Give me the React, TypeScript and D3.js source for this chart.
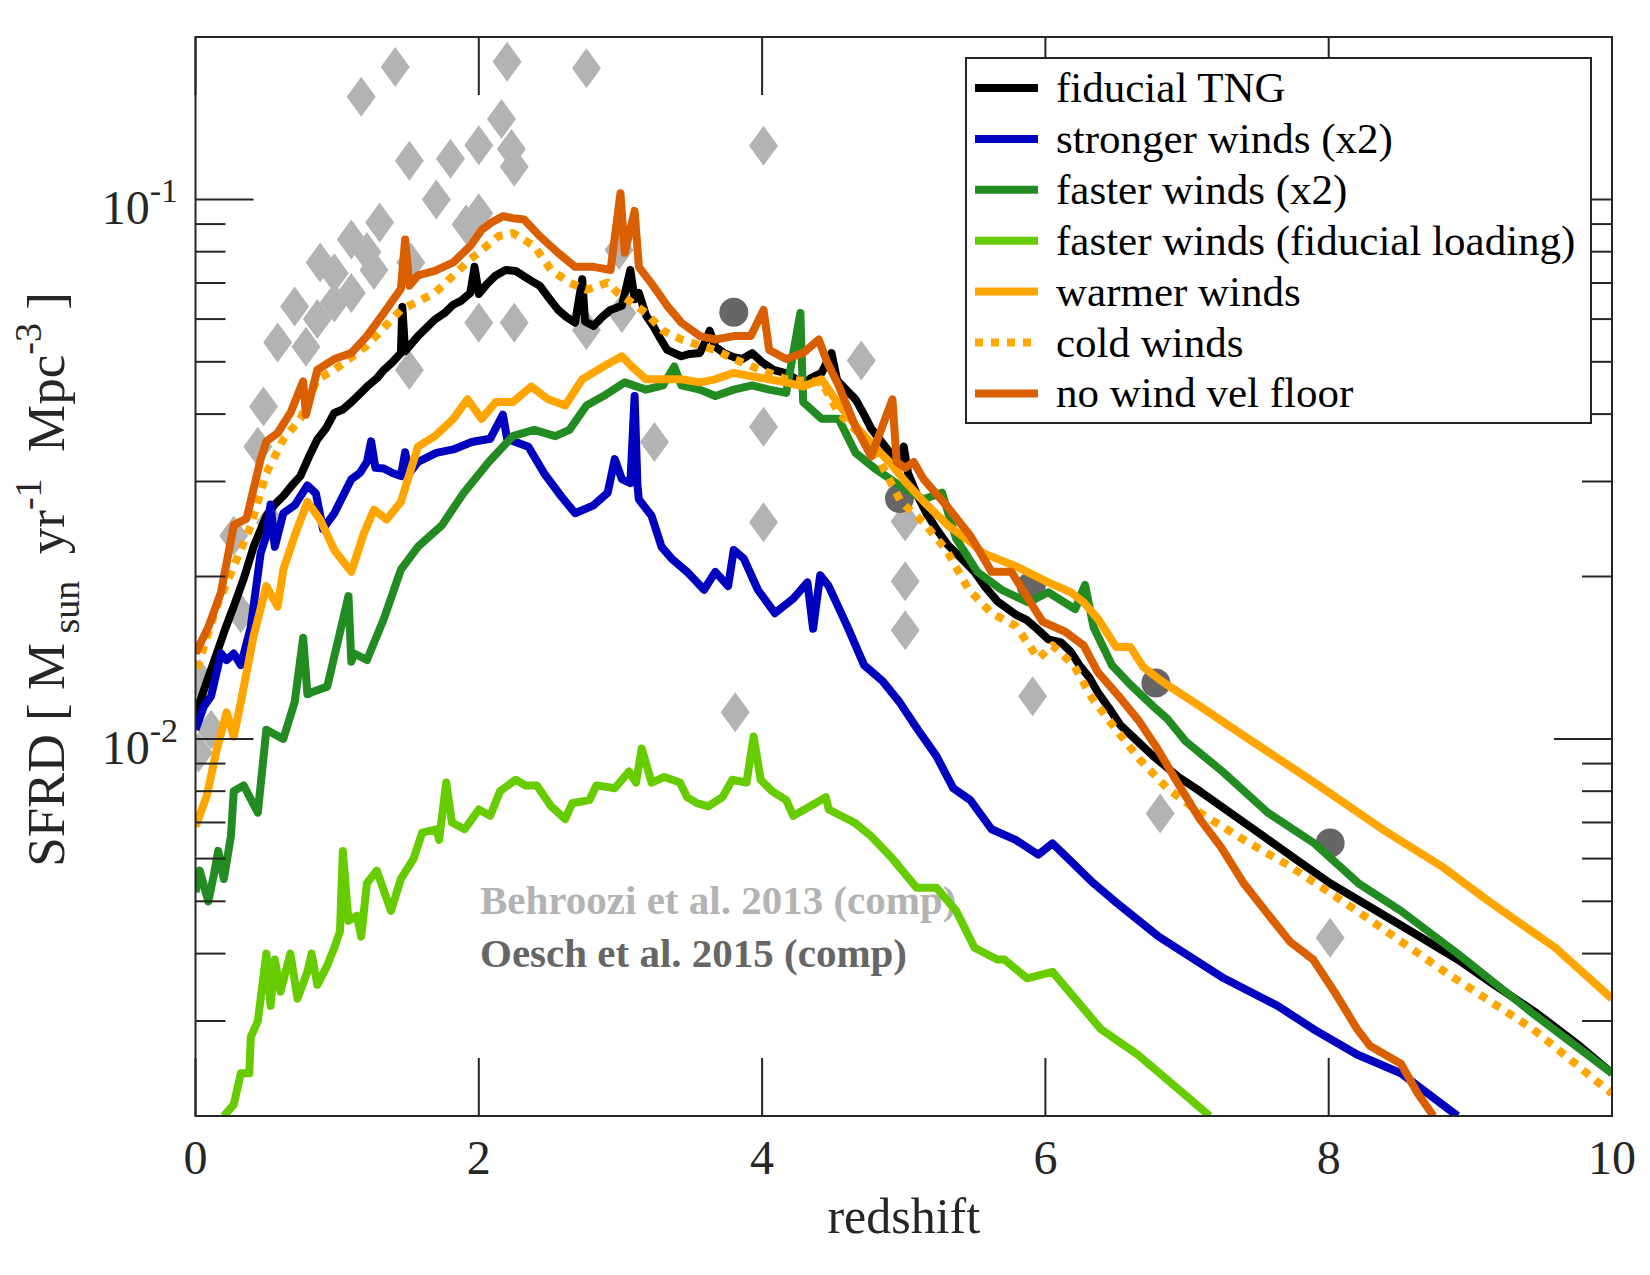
import React from "react";
import * as d3 from "d3";

type Pt = [number, number]; // [redshift, SFRD in Msun/yr/Mpc^3]

// simulation runs
const fiducialTNG: Pt[] = [
  [0.0, 0.0108], [0.03, 0.0117], [0.09, 0.013], [0.15, 0.0144], [0.21, 0.016], [0.27, 0.0176], [0.34, 0.0198],
  [0.41, 0.0227], [0.5, 0.0259], [0.56, 0.0272], [0.62, 0.0282], [0.68, 0.0295], [0.74, 0.0307], [0.8, 0.0333],
  [0.86, 0.0359], [0.92, 0.0376], [0.98, 0.0402], [1.04, 0.0408], [1.1, 0.0421], [1.16, 0.0436], [1.22, 0.0452],
  [1.28, 0.0466], [1.33, 0.0483], [1.39, 0.0499], [1.45, 0.0519], [1.46, 0.0632], [1.48, 0.0523], [1.57, 0.0558],
  [1.63, 0.0578], [1.69, 0.0599], [1.76, 0.0616], [1.82, 0.0638], [1.88, 0.065], [1.94, 0.0671], [1.97, 0.075],
  [2.0, 0.0668], [2.06, 0.0698], [2.12, 0.0723], [2.19, 0.074], [2.26, 0.0737], [2.32, 0.072], [2.38, 0.0704],
  [2.43, 0.0692], [2.49, 0.0659], [2.56, 0.0624], [2.62, 0.0605], [2.68, 0.0591], [2.73, 0.0711], [2.75, 0.0594],
  [2.81, 0.0583], [2.87, 0.0605], [2.93, 0.0624], [3.01, 0.0635], [3.07, 0.074], [3.1, 0.0653], [3.13, 0.0671],
  [3.18, 0.061], [3.23, 0.0583], [3.28, 0.0553], [3.33, 0.0526], [3.38, 0.0519], [3.43, 0.0512], [3.49, 0.0517],
  [3.56, 0.0519], [3.6, 0.0545], [3.63, 0.0571], [3.67, 0.0533], [3.73, 0.0519], [3.8, 0.051], [3.86, 0.0506],
  [3.93, 0.0519], [4.0, 0.0499], [4.08, 0.0483], [4.16, 0.0477], [4.23, 0.0466], [4.29, 0.045], [4.34, 0.0466],
  [4.42, 0.0477], [4.49, 0.0519], [4.53, 0.0462], [4.6, 0.0442], [4.66, 0.0426], [4.72, 0.0399], [4.77, 0.0376],
  [4.83, 0.0359], [4.9, 0.034], [4.95, 0.0326], [5.0, 0.0348], [5.03, 0.0311], [5.09, 0.0285], [5.16, 0.0262],
  [5.24, 0.0243], [5.31, 0.0229], [5.4, 0.0217], [5.5, 0.0204], [5.57, 0.0192], [5.66, 0.018], [5.79, 0.017],
  [5.87, 0.0166], [5.94, 0.016], [6.02, 0.0153], [6.11, 0.0151], [6.18, 0.0145], [6.24, 0.0137], [6.31, 0.013],
  [6.37, 0.0122], [6.45, 0.0114], [6.53, 0.0106], [6.65, 0.0099], [6.76, 0.0093], [6.94, 0.0085], [7.09, 0.008],
  [7.24, 0.0075], [7.54, 0.0066], [7.76, 0.006], [8.01, 0.0054], [8.28, 0.0049], [8.58, 0.0044], [8.91, 0.0039],
  [9.17, 0.0035], [9.47, 0.0031], [9.77, 0.0027], [10.0, 0.0024],
];

const strongerWinds: Pt[] = [
  [0.0, 0.0104], [0.06, 0.0115], [0.11, 0.012], [0.18, 0.0144], [0.22, 0.014], [0.27, 0.0144], [0.32, 0.0137],
  [0.39, 0.0161], [0.46, 0.0221], [0.5, 0.0238], [0.53, 0.0272], [0.56, 0.0227], [0.62, 0.0262], [0.7, 0.0271],
  [0.79, 0.0295], [0.85, 0.0285], [0.9, 0.0245], [0.98, 0.0262], [1.1, 0.0303], [1.16, 0.0311], [1.21, 0.0326],
  [1.24, 0.0356], [1.27, 0.0318], [1.33, 0.0317], [1.39, 0.0311], [1.45, 0.0307], [1.48, 0.034], [1.51, 0.0311],
  [1.57, 0.0326], [1.7, 0.0339], [1.82, 0.0344], [1.95, 0.0355], [2.08, 0.036], [2.17, 0.0399], [2.2, 0.036],
  [2.35, 0.0348], [2.46, 0.0311], [2.58, 0.0282], [2.68, 0.0262], [2.81, 0.0271], [2.91, 0.0286], [2.96, 0.033],
  [3.01, 0.0303], [3.07, 0.0298], [3.1, 0.0432], [3.12, 0.0295], [3.13, 0.0278], [3.22, 0.0259], [3.29, 0.0227],
  [3.36, 0.0216], [3.47, 0.0204], [3.59, 0.0189], [3.67, 0.0204], [3.76, 0.0192], [3.8, 0.0224], [3.87, 0.0216],
  [3.97, 0.0189], [4.09, 0.0171], [4.22, 0.0182], [4.32, 0.0195], [4.36, 0.016], [4.41, 0.0201], [4.47, 0.0192],
  [4.6, 0.0162], [4.72, 0.0137], [4.85, 0.0128], [4.97, 0.0117], [5.1, 0.0104], [5.23, 0.0093], [5.35, 0.0081],
  [5.47, 0.0077], [5.62, 0.0068], [5.79, 0.0065], [5.95, 0.0061], [6.05, 0.0064], [6.19, 0.0059], [6.34, 0.0054],
  [6.49, 0.005], [6.8, 0.0043], [7.26, 0.0036], [7.64, 0.0032], [7.89, 0.0029], [8.2, 0.0026], [8.51, 0.0024],
  [8.91, 0.002],
];

const fasterWinds: Pt[] = [
  [0.0, 0.0052], [0.03, 0.0057], [0.09, 0.005], [0.13, 0.0056], [0.16, 0.0062], [0.2, 0.0055], [0.25, 0.0066],
  [0.27, 0.008], [0.34, 0.0082], [0.44, 0.0073], [0.5, 0.0104], [0.62, 0.01], [0.7, 0.0117], [0.76, 0.0154],
  [0.79, 0.0121], [0.82, 0.0122], [0.93, 0.0125], [1.08, 0.0184], [1.1, 0.0139], [1.12, 0.0144], [1.21, 0.014],
  [1.33, 0.0167], [1.45, 0.0206], [1.57, 0.0227], [1.74, 0.0249], [1.89, 0.0285], [2.07, 0.0326], [2.24, 0.0364],
  [2.39, 0.0374], [2.54, 0.0364], [2.64, 0.0374], [2.76, 0.0415], [2.88, 0.0432], [3.03, 0.0458], [3.18, 0.0444],
  [3.3, 0.0452], [3.38, 0.049], [3.43, 0.0452], [3.56, 0.0444], [3.67, 0.0432], [3.8, 0.0444], [3.93, 0.0452],
  [4.05, 0.0444], [4.17, 0.0438], [4.27, 0.0616], [4.29, 0.0421], [4.42, 0.0392], [4.54, 0.0392], [4.66, 0.0339],
  [4.79, 0.0318], [4.97, 0.0295], [5.14, 0.0278], [5.27, 0.0286], [5.37, 0.0235], [5.52, 0.0204], [5.69, 0.0189],
  [5.88, 0.0179], [6.02, 0.0187], [6.21, 0.0174], [6.28, 0.0193], [6.34, 0.0161], [6.47, 0.0137], [6.6, 0.0126],
  [6.76, 0.0115], [6.86, 0.0109], [6.99, 0.0099], [7.25, 0.0087], [7.57, 0.0073], [7.9, 0.0064], [8.21, 0.0054],
  [8.51, 0.0048], [8.91, 0.004], [9.44, 0.0031], [10.0, 0.0024],
];

const fasterWindsFidLoading: Pt[] = [
  [0.2, 0.002], [0.27, 0.0021], [0.32, 0.0024], [0.38, 0.0024], [0.39, 0.0028], [0.44, 0.003], [0.5, 0.004],
  [0.53, 0.0032], [0.56, 0.0039], [0.6, 0.0034], [0.67, 0.004], [0.72, 0.0033], [0.79, 0.0037], [0.82, 0.004],
  [0.86, 0.0035], [0.93, 0.0038], [0.98, 0.0041], [1.02, 0.0044], [1.04, 0.0062], [1.08, 0.0046], [1.14, 0.0047],
  [1.17, 0.0043], [1.21, 0.0054], [1.28, 0.0057], [1.38, 0.0048], [1.45, 0.0055], [1.54, 0.006], [1.6, 0.0067],
  [1.7, 0.0068], [1.72, 0.0065], [1.77, 0.0083], [1.81, 0.007], [1.9, 0.0068], [2.0, 0.0074], [2.08, 0.0072],
  [2.15, 0.008], [2.26, 0.0084], [2.33, 0.0082], [2.41, 0.0082], [2.51, 0.0075], [2.61, 0.0071], [2.66, 0.0076],
  [2.78, 0.0077], [2.83, 0.0082], [2.96, 0.0081], [3.06, 0.0087], [3.11, 0.0083], [3.15, 0.0096], [3.22, 0.0083],
  [3.31, 0.0085], [3.42, 0.0083], [3.47, 0.0078], [3.54, 0.0076], [3.62, 0.0075], [3.72, 0.0078], [3.79, 0.0084],
  [3.89, 0.0083], [3.94, 0.0101], [3.99, 0.0084], [4.07, 0.008], [4.17, 0.0077], [4.22, 0.0072], [4.34, 0.0075],
  [4.45, 0.0078], [4.47, 0.0074], [4.65, 0.007], [4.77, 0.0066], [4.92, 0.006], [5.09, 0.0053], [5.23, 0.0053],
  [5.37, 0.0048], [5.5, 0.0041], [5.66, 0.0039], [5.71, 0.0039], [5.87, 0.0036], [6.05, 0.0037], [6.21, 0.0033],
  [6.39, 0.0029], [6.65, 0.0026], [6.89, 0.0023], [7.16, 0.002],
];

const warmerWinds: Pt[] = [
  [0.0, 0.00688], [0.08, 0.00785], [0.15, 0.00956], [0.22, 0.0112], [0.27, 0.0101], [0.32, 0.0117], [0.41, 0.0155],
  [0.5, 0.0192], [0.58, 0.0176], [0.62, 0.0206], [0.7, 0.0238], [0.79, 0.0275], [0.88, 0.0255], [0.98, 0.0224],
  [1.1, 0.0204], [1.19, 0.0241], [1.26, 0.0266], [1.35, 0.0255], [1.45, 0.0275], [1.57, 0.0348], [1.69, 0.0364],
  [1.82, 0.0392], [1.92, 0.0426], [2.02, 0.0392], [2.12, 0.0421], [2.24, 0.0421], [2.37, 0.045], [2.49, 0.0426],
  [2.61, 0.0415], [2.73, 0.0464], [2.88, 0.049], [3.01, 0.0512], [3.08, 0.049], [3.18, 0.0464], [3.3, 0.0464],
  [3.43, 0.0464], [3.56, 0.0458], [3.67, 0.0464], [3.8, 0.0477], [3.93, 0.047], [4.05, 0.0464], [4.17, 0.0458],
  [4.29, 0.045], [4.42, 0.0464], [4.54, 0.0417], [4.66, 0.0381], [4.79, 0.0348], [4.9, 0.0326], [5.01, 0.03],
  [5.16, 0.0272], [5.31, 0.0249], [5.46, 0.0233], [5.56, 0.0221], [5.79, 0.0209], [6.02, 0.0195], [6.18, 0.0187],
  [6.27, 0.0179], [6.37, 0.0167], [6.5, 0.0148], [6.6, 0.0148], [6.69, 0.0136], [6.82, 0.0128], [7.09, 0.0115],
  [7.41, 0.0101], [7.9, 0.0083], [8.38, 0.0068], [8.8, 0.0058], [9.13, 0.005], [9.6, 0.0041], [10.0, 0.0033],
];

const coldWinds: Pt[] = [
  [0.01, 0.0135], [0.15, 0.0176], [0.27, 0.0209], [0.39, 0.0248], [0.5, 0.0311], [0.62, 0.0359], [0.74, 0.0392],
  [0.86, 0.0464], [0.98, 0.0483], [1.21, 0.0536], [1.45, 0.0624], [1.69, 0.0671], [1.94, 0.0774], [2.14, 0.0855],
  [2.24, 0.0866], [2.39, 0.082], [2.51, 0.074], [2.64, 0.0701], [2.76, 0.068], [2.91, 0.0701], [2.98, 0.0671],
  [3.08, 0.0644], [3.18, 0.0616], [3.3, 0.0571], [3.43, 0.055], [3.56, 0.0536], [3.67, 0.0526], [3.8, 0.0506],
  [3.93, 0.049], [4.05, 0.0477], [4.17, 0.0464], [4.42, 0.0458], [4.54, 0.0402], [4.66, 0.0374], [4.79, 0.0343],
  [4.98, 0.0275], [5.14, 0.0252], [5.3, 0.0224], [5.46, 0.0189], [5.62, 0.0171], [5.79, 0.0162], [5.95, 0.0141],
  [6.05, 0.0149], [6.2, 0.0137], [6.33, 0.0119], [6.5, 0.0104], [6.66, 0.0092], [6.86, 0.0081], [7.09, 0.0073],
  [7.4, 0.0065], [7.73, 0.0058], [8.05, 0.0051], [8.2, 0.0048], [8.82, 0.0037], [9.44, 0.0029], [10.0, 0.0022],
];

const noWindVelFloor: Pt[] = [
  [0.0, 0.0144], [0.09, 0.0161], [0.18, 0.0187], [0.27, 0.0249], [0.36, 0.0256], [0.46, 0.033], [0.5, 0.0356],
  [0.58, 0.0369], [0.67, 0.0402], [0.76, 0.046], [0.78, 0.0399], [0.86, 0.0483], [0.98, 0.0506], [1.1, 0.0519],
  [1.21, 0.0558], [1.33, 0.0616], [1.45, 0.0683], [1.48, 0.0843], [1.51, 0.0692], [1.57, 0.0723], [1.69, 0.0737],
  [1.82, 0.0764], [1.94, 0.082], [2.02, 0.0878], [2.09, 0.0906], [2.17, 0.0931], [2.24, 0.0923], [2.32, 0.0918],
  [2.43, 0.0855], [2.56, 0.0796], [2.68, 0.075], [2.81, 0.075], [2.93, 0.074], [3.0, 0.1027], [3.03, 0.0796],
  [3.1, 0.0952], [3.13, 0.075], [3.23, 0.0692], [3.33, 0.0635], [3.43, 0.0591], [3.56, 0.0558], [3.67, 0.055],
  [3.8, 0.0558], [3.92, 0.0558], [4.01, 0.0624], [4.05, 0.0526], [4.17, 0.0506], [4.29, 0.0519], [4.4, 0.055],
  [4.46, 0.0499], [4.54, 0.0452], [4.66, 0.0379], [4.77, 0.0334], [4.92, 0.0426], [4.95, 0.0326], [5.01, 0.0318],
  [5.07, 0.0326], [5.14, 0.0303], [5.3, 0.0271], [5.47, 0.0238], [5.62, 0.0204], [5.76, 0.0204], [5.85, 0.0187],
  [5.98, 0.0165], [6.14, 0.0158], [6.27, 0.0149], [6.37, 0.0133], [6.53, 0.0119], [6.66, 0.0108], [6.79, 0.0096],
  [6.92, 0.0084], [7.09, 0.0071], [7.24, 0.0063], [7.4, 0.0054], [7.58, 0.0047], [7.73, 0.0042], [7.89, 0.0039],
  [8.04, 0.0034], [8.2, 0.0029], [8.29, 0.0027], [8.51, 0.0025], [8.63, 0.0022], [8.74, 0.002],
];

// observational compilations
const behroozi2013: Pt[] = [
  [1.17, 0.155], [1.41, 0.176], [1.51, 0.118], [1.8, 0.119], [2.0, 0.126], [2.16, 0.141], [2.2, 0.18],
  [2.76, 0.175], [2.23, 0.124], [2.25, 0.115], [1.7, 0.1], [2.0, 0.0943], [1.91, 0.0898], [1.3, 0.0906],
  [1.1, 0.0843], [1.21, 0.0799], [0.88, 0.0764], [1.26, 0.074], [0.98, 0.073], [1.1, 0.0671], [0.7, 0.0633],
  [0.98, 0.0644], [0.86, 0.06], [0.58, 0.0543], [0.78, 0.0533], [1.52, 0.0764], [1.51, 0.0483], [2.0, 0.0591],
  [2.25, 0.0591], [2.76, 0.0573], [2.99, 0.0806], [3.01, 0.0616], [4.01, 0.1257], [4.7, 0.0503], [3.24, 0.0355],
  [4.01, 0.0379], [4.01, 0.0252], [3.81, 0.0112], [5.01, 0.0253], [5.01, 0.0196], [5.01, 0.0159], [5.91, 0.012],
  [6.81, 0.00727], [8.01, 0.00428], [0.48, 0.0413], [0.44, 0.0348], [0.27, 0.0238], [0.53, 0.0252], [0.32, 0.0171],
  [0.03, 0.0129], [0.11, 0.0104], [0.02, 0.00943],
];

const oesch2015: Pt[] = [
  [3.8, 0.0618], [4.97, 0.0279], [5.9, 0.0192], [6.78, 0.0127], [8.01, 0.00641],
];

const runs = [
  { label: "fiducial TNG", data: fiducialTNG, color: "#000000", dash: null },
  { label: "stronger winds (x2)", data: strongerWinds, color: "#0000bf", dash: null },
  { label: "faster winds (x2)", data: fasterWinds, color: "#228b22", dash: null },
  { label: "faster winds (fiducial loading)", data: fasterWindsFidLoading, color: "#66cc00", dash: null },
  { label: "warmer winds", data: warmerWinds, color: "#ffa500", dash: null },
  { label: "cold winds", data: coldWinds, color: "#ffa500", dash: "8 8" },
  { label: "no wind vel floor", data: noWindVelFloor, color: "#d95f00", dash: null },
];

const zTicks = [0, 2, 4, 6, 8, 10];
const sfrdMajor = [0.01, 0.1];
const sfrdMinor = [2, 3, 4, 5, 6, 7, 8, 9].flatMap((m) => [m * 0.001, m * 0.01]);

const W = 1650;
const H = 1275;
const box = { left: 195.5, right: 1612, top: 37, bottom: 1116 };
const axisColor = "#262626";
const serif = "'Liberation Serif', 'Times New Roman', serif";
const lineW = 8;

const diamond = "M0,-20L14.5,0L0,20L-14.5,0Z";

export default function App() {
  const x = d3.scaleLinear().domain([0, 10]).range([box.left, box.right]);
  const y = d3.scaleLog().domain([0.002, 0.2]).range([box.bottom, box.top]);
  const line = d3
    .line<Pt>()
    .x((d) => x(d[0]))
    .y((d) => y(d[1]));

  const majorLen = 58;
  const minorLen = 30;

  return (
    <div style={{ position: "absolute", left: 0, top: 0 }}>
      <svg width={W} height={H} style={{ display: "block", background: "#fff" }} fontFamily={serif}>
        <defs>
          <clipPath id="plot-area">
            <rect x={box.left} y={box.top} width={box.right - box.left} height={box.bottom - box.top} />
          </clipPath>
        </defs>

        {/* compilation labels sit under the curves */}
        <text x={480} y={914} fontSize={41} fontWeight="bold" fill="#b3b3b3">
          Behroozi et al. 2013 (comp)
        </text>
        <text x={480} y={967} fontSize={41} fontWeight="bold" fill="#666666">
          Oesch et al. 2015 (comp)
        </text>

        <g clipPath="url(#plot-area)">
          {behroozi2013.map((d, i) => (
            <path key={"b" + i} d={diamond} transform={`translate(${x(d[0])},${y(d[1])})`} fill="#b3b3b3" />
          ))}
          {oesch2015.map((d, i) => (
            <circle key={"o" + i} cx={x(d[0])} cy={y(d[1])} r={14.5} fill="#666666" />
          ))}
          {runs.map((r) => (
            <path
              key={r.label}
              d={line(r.data) || ""}
              fill="none"
              stroke={r.color}
              strokeWidth={lineW}
              strokeLinejoin="round"
              strokeDasharray={r.dash || undefined}
            />
          ))}
        </g>

        {/* axes box and inward ticks on all four sides */}
        <g stroke={axisColor} strokeWidth={2}>
          <rect x={box.left} y={box.top} width={box.right - box.left} height={box.bottom - box.top} fill="none" />
          {zTicks.map((t) => (
            <g key={"xt" + t}>
              <line x1={x(t)} x2={x(t)} y1={box.bottom} y2={box.bottom - majorLen} />
              <line x1={x(t)} x2={x(t)} y1={box.top} y2={box.top + majorLen} />
            </g>
          ))}
          {sfrdMajor.map((t) => (
            <g key={"ym" + t}>
              <line x1={box.left} x2={box.left + majorLen} y1={y(t)} y2={y(t)} />
              <line x1={box.right} x2={box.right - majorLen} y1={y(t)} y2={y(t)} />
            </g>
          ))}
          {sfrdMinor.map((t) => (
            <g key={"yn" + t}>
              <line x1={box.left} x2={box.left + minorLen} y1={y(t)} y2={y(t)} />
              <line x1={box.right} x2={box.right - minorLen} y1={y(t)} y2={y(t)} />
            </g>
          ))}
        </g>

        {/* tick labels */}
        <g fontSize={48} fill="#262626">
          {zTicks.map((t) => (
            <text key={"xl" + t} x={x(t)} y={1174} textAnchor="middle">
              {t}
            </text>
          ))}
          {sfrdMajor.map((t) => (
            <text key={"yl" + t} x={178} y={y(t) + 25} textAnchor="end">
              10
              <tspan fontSize={34} dy={-22}>
                {"-" + Math.round(-Math.log10(t))}
              </tspan>
            </text>
          ))}
        </g>

        {/* axis titles */}
        <text x={(box.left + box.right) / 2} y={1233} fontSize={50} textAnchor="middle" fill="#262626">
          redshift
        </text>
        <text
          transform={`translate(64,${(box.top + box.bottom) / 2 + 3}) rotate(-90)`}
          fontSize={53}
          textAnchor="middle"
          fill="#262626"
        >
          SFRD [ M
          <tspan fontSize={38} dy={15}>
            {"\u00a0sun"}
          </tspan>
          <tspan dy={-15}>{"\u00a0\u00a0yr"}</tspan>
          <tspan fontSize={38} dy={-23}>
            -1
          </tspan>
          <tspan dy={23}>{"\u00a0\u00a0Mpc"}</tspan>
          <tspan fontSize={38} dy={-23}>
            -3
          </tspan>
          <tspan dy={23}>{"\u00a0]"}</tspan>
        </text>

        {/* legend */}
        <g>
          <rect x={966} y={58} width={625} height={365} fill="#fff" stroke={axisColor} strokeWidth={2} />
          {runs.map((r, i) => {
            const cy = 88 + i * 50.9;
            return (
              <g key={"lg" + r.label}>
                <line
                  x1={975}
                  x2={1038}
                  y1={cy}
                  y2={cy}
                  stroke={r.color}
                  strokeWidth={lineW}
                  strokeDasharray={r.dash || undefined}
                />
                <text x={1056} y={cy + 14} fontSize={43} fill="#000">
                  {r.label}
                </text>
              </g>
            );
          })}
        </g>
      </svg>
    </div>
  );
}
